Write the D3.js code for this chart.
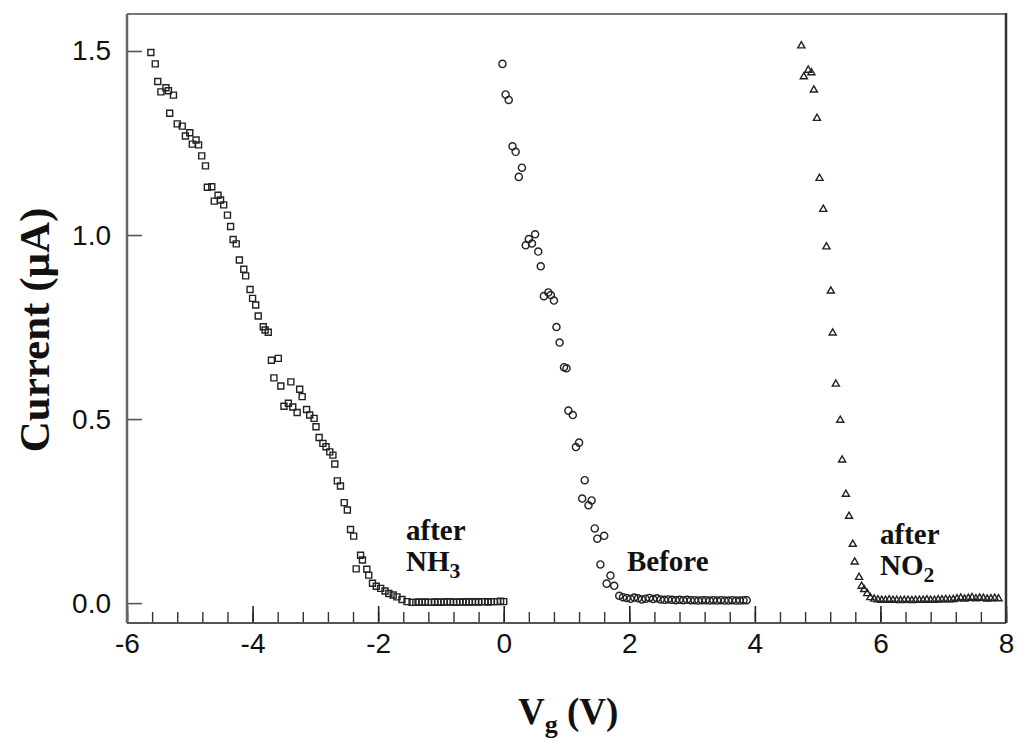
<!doctype html>
<html lang="en">
  <head>
    <meta charset="utf-8">
    <title>Current vs gate voltage</title>
  </head>
  <style type="text/css">
  body {
    margin: 0;
    background-color: #ffffff;
  }
  .tick text {
    font-family: "Liberation Sans", Arial, sans-serif;
    font-size: 28px;
    fill: #111;
  }
  .ttl {
    font-family: "Liberation Serif", "Times New Roman", serif;
    font-weight: bold;
    fill: #111;
  }
</style>
  <body>
	<script src="https://d3js.org/d3.v7.min.js"></script>
	<script>

  // after NH3 (squares)
  var nh3V = [-5.62,-5.55,-5.51,-5.46,-5.38,-5.34,-5.26,-5.32,-5.20,-5.12,-5.07,-5.00,-4.96,-4.90,-4.86,-4.81,-4.75,-4.72,-4.65,-4.61,
    -4.55,-4.51,-4.46,-4.40,-4.35,-4.31,-4.26,-4.21,-4.14,-4.11,-4.04,-4.00,-3.95,-3.91,-3.83,-3.80,-3.75,-3.70,-3.59,-3.66,
    -3.55,-3.39,-3.25,-3.21,-3.50,-3.43,-3.36,-3.29,-3.14,-3.09,-3.02,-2.99,-2.94,-2.88,-2.83,-2.77,-2.72,-2.69,-2.65,-2.60,
    -2.54,-2.49,-2.44,-2.39,-2.28,-2.25,-2.35,-2.18,-2.15,-2.09,-2.03,-1.96,-1.89,-1.83,-1.76,-1.70,-1.62,-1.54,-1.46,
    -1.40,-1.35,-1.30,-1.25,-1.20,-1.15,-1.10,-1.05,-1.00,-0.95,-0.90,-0.85,-0.80,-0.75,-0.70,-0.65,-0.60,-0.55,-0.50,-0.45,
    -0.40,-0.35,-0.30,-0.25,-0.20,-0.15,-0.10,-0.05,0.00];
  var nh3I = [1.496,1.465,1.417,1.389,1.400,1.392,1.380,1.331,1.302,1.296,1.269,1.278,1.247,1.258,1.245,1.215,1.188,1.130,1.131,1.092,
    1.108,1.095,1.082,1.054,1.023,0.988,0.976,0.932,0.907,0.889,0.852,0.828,0.810,0.780,0.751,0.742,0.736,0.660,0.665,0.612,
    0.590,0.601,0.581,0.561,0.535,0.543,0.533,0.518,0.526,0.511,0.502,0.479,0.450,0.434,0.425,0.411,0.402,0.378,0.332,0.318,
    0.273,0.253,0.200,0.182,0.130,0.117,0.093,0.092,0.076,0.054,0.046,0.040,0.033,0.026,0.022,0.017,0.010,0.004,0.002,
    0.002,0.003,0.002,0.003,0.002,0.002,0.003,0.003,0.002,0.003,0.004,0.003,0.003,0.002,0.003,0.003,0.004,0.003,0.003,0.004,
    0.003,0.004,0.004,0.003,0.004,0.004,0.004,0.005,0.004];

  // before exposure (circles)
  var beforeV = [-0.02,0.03,0.08,0.14,0.19,0.29,0.24,0.50,0.40,0.35,0.45,0.55,0.59,0.64,0.71,0.75,0.80,0.84,0.89,0.96,
    1.00,1.03,1.10,1.20,1.15,1.29,1.25,1.35,1.40,1.45,1.49,1.60,1.54,1.70,1.64,1.76,
    1.84,1.90,1.96,2.02,2.08,2.14,2.20,2.26,2.32,2.38,2.44,2.50,2.56,2.62,2.68,2.74,2.80,2.86,2.92,2.98,
    3.04,3.10,3.16,3.22,3.28,3.34,3.40,3.46,3.52,3.58,3.64,3.70,3.76,3.82,3.87];
  var beforeI = [1.465,1.382,1.367,1.241,1.226,1.183,1.158,1.002,0.989,0.972,0.977,0.955,0.915,0.834,0.844,0.837,0.822,0.750,0.708,0.641,
    0.638,0.523,0.511,0.436,0.424,0.334,0.284,0.266,0.279,0.203,0.175,0.183,0.105,0.075,0.053,0.047,
    0.020,0.016,0.014,0.012,0.015,0.013,0.010,0.012,0.014,0.011,0.013,0.010,0.009,0.010,0.009,0.008,0.009,0.008,0.009,0.008,
    0.008,0.007,0.008,0.008,0.007,0.008,0.007,0.008,0.007,0.007,0.008,0.007,0.007,0.008,0.008];

  // after NO2 (triangles)
  var no2V = [4.74,4.85,4.90,4.78,4.94,4.99,5.03,5.09,5.14,5.21,5.24,5.29,5.36,5.39,5.45,5.50,5.56,5.59,5.66,5.70,5.74,5.79,5.84,
    5.90,5.96,6.02,6.08,6.14,6.20,6.26,6.32,6.38,6.44,6.50,6.56,6.62,6.68,6.74,6.80,6.86,6.92,6.98,7.04,
    7.10,7.16,7.22,7.28,7.34,7.40,7.46,7.52,7.58,7.64,7.70,7.76,7.82,7.88];
  var no2I = [1.514,1.448,1.441,1.430,1.394,1.317,1.154,1.070,0.968,0.848,0.734,0.595,0.497,0.389,0.296,0.236,0.160,0.112,0.070,0.046,0.037,0.026,0.015,
    0.011,0.009,0.008,0.008,0.009,0.008,0.008,0.007,0.008,0.008,0.007,0.008,0.008,0.008,0.009,0.008,0.008,0.009,0.009,0.010,
    0.009,0.010,0.012,0.014,0.011,0.013,0.015,0.012,0.014,0.013,0.011,0.012,0.013,0.012];

  var yTicks = [0, 0.5, 1.0, 1.5];
  var xTicks = [-6, -4, -2, 0, 2, 4, 6, 8];

  //Width and height
  var w = 1021;
  var h = 738;
  var pLeft = 127, pRight = 1006, pTop = 14, pBottom = 623;

  var x = d3.scaleLinear().domain([-6, 8]).range([pLeft, pRight]);
  var y = d3.scaleLinear().domain([-0.054, 1.6005]).range([pBottom, pTop]);

  var svg = d3.select("body")
    .append("svg")
    .attr("width", w)
    .attr("height", h);

  // minor ticks on the bottom, pointing up
  svg.append("g")
    .attr("transform", "translate(0," + pBottom + ")")
    .call(d3.axisBottom(x).tickValues(d3.range(-6, 8.01, 0.4)).tickSize(-11).tickFormat(""))
    .call(function(g) { g.select(".domain").remove(); g.selectAll("line").attr("stroke", "#333").attr("stroke-width", 1.4); });

  // major ticks + labels (plain hyphen for minus, like the original)
  svg.append("g")
    .attr("transform", "translate(0," + pBottom + ")")
    .call(d3.axisBottom(x).tickValues(xTicks).tickSize(-17).tickPadding(10).tickFormat(function(d) { return String(d); }))
    .call(function(g) { g.select(".domain").remove(); g.selectAll("line").attr("stroke", "#222").attr("stroke-width", 1.6); });

  svg.append("g")
    .attr("transform", "translate(" + pLeft + ",0)")
    .call(d3.axisLeft(y).tickValues(yTicks).tickSize(-15).tickPadding(16).tickFormat(d3.format(".1f")))
    .call(function(g) { g.select(".domain").remove(); g.selectAll("line").attr("stroke", "#555").attr("stroke-width", 1.6); });

  // frame
  svg.append("line").attr("x1", pLeft).attr("x2", pRight).attr("y1", pTop).attr("y2", pTop)
    .attr("stroke", "#777").attr("stroke-width", 2);
  svg.append("line").attr("x1", pLeft).attr("x2", pRight).attr("y1", pBottom).attr("y2", pBottom)
    .attr("stroke", "#555").attr("stroke-width", 2);
  svg.append("line").attr("x1", pLeft).attr("x2", pLeft).attr("y1", pTop).attr("y2", pBottom)
    .attr("stroke", "#666").attr("stroke-width", 2.5);
  svg.append("line").attr("x1", pRight).attr("x2", pRight).attr("y1", pTop - 1).attr("y2", pBottom)
    .attr("stroke", "#333").attr("stroke-width", 2.5);

  function pts(vs, is) {
    return vs.map(function(v, i) { return [v, is[i]]; });
  }

  var layer = svg.append("g");

  function drawSeries(data, type, size) {
    layer.append("g").selectAll("path")
      .data(data)
      .enter()
      .append("path")
      .attr("transform", function(d) { return "translate(" + x(d[0]) + "," + y(d[1]) + ")"; })
      .attr("d", d3.symbol().type(type).size(size))
      .style("fill", "none")
      .style("stroke", "#222")
      .style("stroke-width", 1.4);
  }

  drawSeries(pts(nh3V, nh3I), d3.symbolSquare, 36);
  drawSeries(pts(beforeV, beforeI), d3.symbolCircle, 40);
  drawSeries(pts(no2V, no2I), d3.symbolTriangle, 22);

  // annotations
  function label(xp, yp, main, sub, size) {
    var t = svg.append("text").attr("class", "ttl").attr("x", xp).attr("y", yp).style("font-size", size + "px");
    t.append("tspan").text(main);
    if (sub) t.append("tspan").attr("dy", size * 0.25).style("font-size", (size * 0.75) + "px").text(sub);
    return t;
  }
  label(406, 540, "after", null, 29);
  label(406, 571, "NH", "3", 29);
  label(627, 571, "Before", null, 29);
  label(880, 544, "after", null, 29);
  label(880, 575, "NO", "2", 29);

  // axis titles
  svg.append("text").attr("class", "ttl")
    .attr("transform", "translate(49,330) rotate(-90)")
    .attr("text-anchor", "middle")
    .style("font-size", "43px")
    .text("Current (μA)");

  var xt = svg.append("text").attr("class", "ttl")
    .attr("x", 518).attr("y", 724)
    .style("font-size", "37px");
  xt.append("tspan").text("V");
  xt.append("tspan").attr("dy", 9).style("font-size", "26px").text("g");
  xt.append("tspan").attr("dy", -9).text(" (V)");

	</script>
  </body>
</html>
